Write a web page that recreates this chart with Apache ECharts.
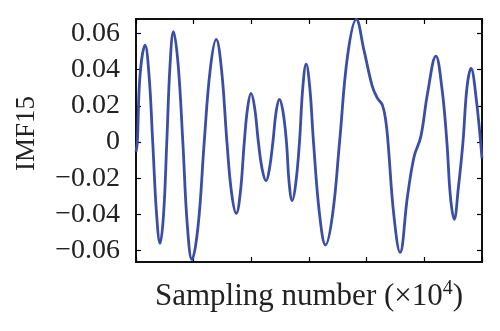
<!DOCTYPE html>
<html>
<head>
<meta charset="utf-8">
<script src="https://cdn.jsdelivr.net/npm/echarts@6/dist/echarts.min.js"></script>
<style>
  html, body { margin: 0; padding: 0; background: #fff; }
  #chart { width: 500px; height: 331px; }
</style>
</head>
<body>
<div id="chart"></div>
<script>
// Sample position (x 10^4) and IMF15 amplitude along the trace
const sampleX = [
  0, 0.023, 0.070, 0.157, 0.226, 0.290, 0.357, 0.417, 0.478, 0.534,
  0.591, 0.649, 0.730, 0.812, 0.890, 0.969, 1.078, 1.183, 1.287, 1.391,
  1.483, 1.577, 1.657, 1.739, 1.809, 1.878, 1.936, 1.995, 2.057, 2.122,
  2.188, 2.256, 2.313, 2.374, 2.431, 2.487, 2.548, 2.609, 2.657, 2.708,
  2.770, 2.835, 2.892, 2.951, 3.014, 3.078, 3.183, 3.287, 3.409, 3.530,
  3.670, 3.821, 3.953, 4.099, 4.186, 4.273, 4.330, 4.370, 4.470, 4.579,
  4.708, 4.823, 4.939, 5.056, 5.200, 5.304, 5.391, 5.452, 5.518, 5.591,
  5.670, 5.739, 5.809, 5.896, 6.0
];
const imfValues = [
  -0.0054, 0, 0.037, 0.0536, 0.037, 0, -0.040, -0.056, -0.040, 0,
  0.043, 0.061, 0.043, 0, -0.046, -0.065, -0.046, 0, 0.040, 0.0567,
  0.040, 0, -0.028, -0.0394, -0.028, 0, 0.019, 0.0269, 0.019, 0,
  -0.015, -0.0214, -0.015, 0, 0.017, 0.0236, 0.017, 0, -0.023, -0.0324,
  -0.023, 0, 0.030, 0.0431, 0.030, 0, -0.040, -0.0569, -0.040, 0,
  0.048, 0.0678, 0.0508, 0.0306, 0.0243, 0.0204, 0.012, 0, -0.040, -0.061,
  -0.030, -0.008, 0.003, 0.027, 0.0475, 0.030, 0, -0.030, -0.0427, -0.025,
  0, 0.030, 0.0407, 0.025, -0.009
];
const yTicks = [-0.06, -0.04, -0.02, 0, 0.02, 0.04, 0.06];
const yTickLabels = ['\u22120.06', '\u22120.04', '\u22120.02', '0', '0.02', '0.04', '0.06'];
const xTicks = [0, 1, 2, 3, 4, 5, 6];

const FONT = 'Liberation Serif';
const Y_MIN = -0.0663, Y_MAX = 0.068;

const chart = echarts.init(document.getElementById('chart'), null, { renderer: 'canvas' });

const tickStyle = { show: true, inside: true, length: 5, lineStyle: { color: '#000', width: 1.2 } };
const hiddenLine = { show: false, onZero: false };

chart.setOption({
  animation: false,
  backgroundColor: '#fff',
  grid: {
    left: 136, right: 18, top: 19, bottom: 69,
    outerBoundsMode: 'none', containLabel: false,
    show: true, borderColor: '#111', borderWidth: 2, backgroundColor: 'transparent'
  },
  xAxis: [
    {
      type: 'value', min: 0, max: 6, interval: 1, position: 'bottom',
      name: 'Sampling number (\u00d710{sup|4})',
      nameLocation: 'middle', nameGap: 17,
      nameTextStyle: {
        fontFamily: FONT, fontSize: 31, color: '#222',
        rich: { sup: { fontFamily: FONT, fontSize: 20, color: '#222', verticalAlign: 'top', padding: [0, 0, 15, 0] } }
      },
      axisLine: hiddenLine, splitLine: { show: false }, axisLabel: { show: false },
      axisTick: Object.assign({ customValues: xTicks }, tickStyle)
    },
    {
      type: 'value', min: 0, max: 6, interval: 1, position: 'top',
      axisLine: hiddenLine, splitLine: { show: false }, axisLabel: { show: false },
      axisTick: Object.assign({ customValues: xTicks }, tickStyle)
    }
  ],
  yAxis: [
    {
      type: 'value', min: Y_MIN, max: Y_MAX, position: 'left',
      name: 'IMF15', nameLocation: 'middle', nameGap: 96, nameRotate: 90,
      nameTextStyle: { fontFamily: FONT, fontSize: 27, color: '#222', padding: [0, 0, 0, 14] },
      axisLine: hiddenLine, splitLine: { show: false },
      axisTick: Object.assign({ customValues: yTicks }, tickStyle),
      axisLabel: {
        customValues: yTicks, margin: 16,
        fontFamily: FONT, fontSize: 28, color: '#222',
        formatter: function (v) {
          const i = yTicks.findIndex(t => Math.abs(t - v) < 1e-9);
          return i >= 0 ? yTickLabels[i] : '';
        }
      }
    },
    {
      type: 'value', min: Y_MIN, max: Y_MAX, position: 'right',
      axisLine: hiddenLine, splitLine: { show: false }, axisLabel: { show: false },
      axisTick: Object.assign({ customValues: yTicks }, tickStyle)
    }
  ],
  series: [{
    type: 'line',
    data: sampleX.map((x, i) => [x, imfValues[i]]),
    smooth: 0.4,
    showSymbol: false,
    clip: true,
    lineStyle: { color: '#3a4ea6', width: 2.8 }
  }]
});
</script>
</body>
</html>
